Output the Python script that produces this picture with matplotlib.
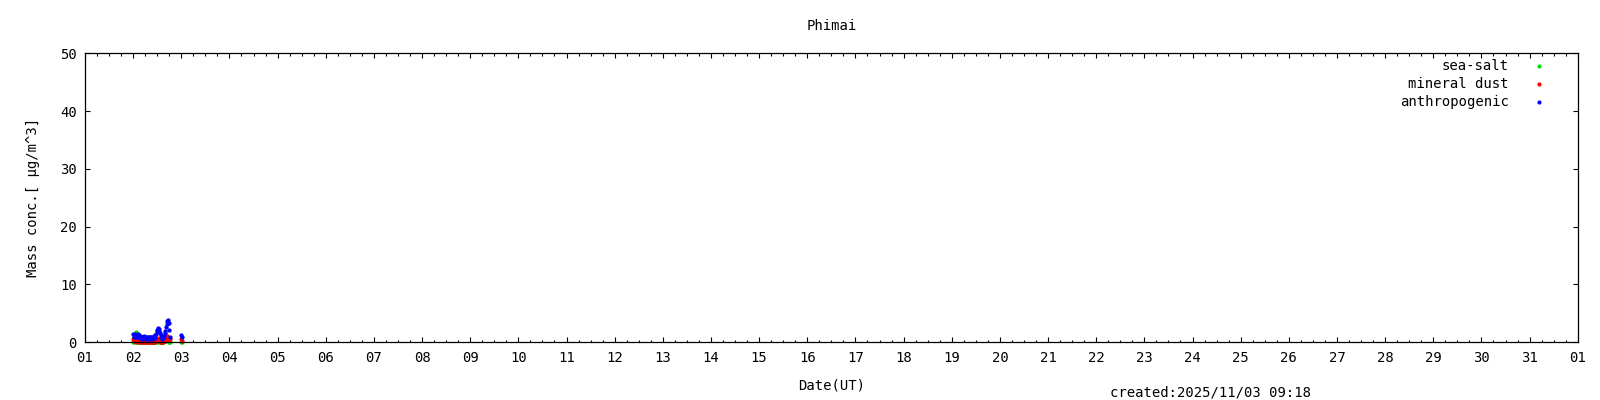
import matplotlib.pyplot as plt
import numpy as np
from matplotlib.ticker import MultipleLocator, FixedLocator

plt.rcParams["font.family"] = ["DejaVu Sans Mono"]

# Samples every 20 min, hours counted from 02 00:00 UT
hours = [0, 0.33, 0.67, 1, 1.33, 1.67, 2, 2.33, 2.67, 3, 3.33, 3.67,
         4, 4.33, 4.67, 5, 5.33, 5.67, 6, 6.33, 6.67, 7, 7.33, 7.67,
         8, 8.33, 8.67, 9, 9.33, 9.67, 10, 10.33, 10.67, 11, 11.33, 11.67,
         12, 12.33, 12.67, 13, 13.33, 13.67, 14, 14.33, 14.67, 15, 15.33, 15.67,
         16, 16.33, 16.67, 17, 17.33, 17.67, 18, 18.33, 24, 24.33]
sea_salt = [0.1, 0.2, 0.1, 0.3, 1.7, 0.2, 0.1, 0.0, 0.1, 0.1, 0.0, 0.1,
            0.1, 0.0, 0.1, 0.0, 0.1, 0.0, 0.1, 0.0, 0.1, 0.0, 0.1, 0.0,
            0.1, 0.0, 0.1, 0.0, 0.1, 0.0, 0.1, 0.0, 0.1, 0.0, 0.1, 0.2,
            0.3, 0.1, 0.2, 0.1, 0.0, 0.1, 0.0, 0.1, 0.0, 0.1, 0.2, 0.3,
            0.5, 1.2, 1.0, 0.4, 0.2, 0.1, 0.1, 0.1, 0.1, 0.1]
mineral_dust = [0.5, 0.2, 0.4, 0.3, 0.6, 0.1, 0.4, 0.2, 0.5, 0.1, 0.3, 0.0,
                0.2, 0.0, 0.3, 0.1, 0.2, 0.0, 0.2, 0.0, 0.1, 0.0, 0.2, 0.1,
                0.1, 0.3, 0.0, 0.2, 0.0, 0.1, 0.1, 0.3, 0.0, 0.2, 0.4, 0.6,
                0.8, 0.5, 0.3, 0.4, 0.2, 0.0, 0.1, 0.0, 0.2, 0.1, 0.3, 0.2,
                0.4, 0.6, 0.9, 1.1, 0.8, 0.5, 0.4, 0.6, 0.6, 0.3]
anthropogenic = [1.5, 1.0, 1.3, 1.4, 0.9, 1.2, 1.3, 1.5, 0.9, 1.2, 0.8, 1.1,
                 1.0, 0.6, 0.9, 1.0, 0.7, 1.1, 0.9, 0.6, 1.0, 1.0, 0.6, 0.9,
                 0.9, 0.5, 1.0, 1.0, 0.6, 0.9, 0.8, 1.1, 0.7, 1.2, 1.5, 1.9,
                 2.1, 2.4, 1.9, 2.3, 1.6, 1.2, 0.9, 0.6, 1.0, 0.8, 1.1, 1.6,
                 2.0, 2.6, 3.1, 3.6, 3.9, 3.3, 2.2, 1.0, 1.3, 0.9]

day_ticks = list(range(1, 33))
day_labels = ["%02d" % d for d in range(1, 32)] + ["01"]

series = [
    ("sea-salt", sea_salt, "#00e000"),
    ("mineral dust", mineral_dust, "#ff0000"),
    ("anthropogenic", anthropogenic, "#0000ff"),
]

days = 2 + np.array(hours) / 24.0

fig = plt.figure(figsize=(16, 4), dpi=100)
ax = fig.add_axes([0.0531, 0.1443, 0.9330, 0.7225])

for name, vals, col in series:
    ax.plot(days, vals, "o", color=col, ms=3.1, mew=0, clip_on=False)

ax.set_xlim(1, 32)
ax.set_ylim(0, 50)
ax.xaxis.set_major_locator(FixedLocator(day_ticks))
ax.xaxis.set_minor_locator(MultipleLocator(0.25))
ax.set_xticklabels(day_labels)
ax.yaxis.set_major_locator(MultipleLocator(10))
ax.tick_params(which="both", direction="in", top=True, right=True, labelsize=10)
ax.tick_params(which="major", length=3.6, width=0.8, pad=6)
ax.tick_params(which="minor", length=1.8, width=0.8)
for s in ax.spines.values():
    s.set_linewidth(0.9)

ax.set_title("Phimai", fontsize=10, pad=17)
ax.set_xlabel("Date(UT)", fontsize=10, labelpad=10)
ax.set_ylabel("Mass conc.[ μg/m^3]", fontsize=10, labelpad=14)

# key in the upper right
for i, (name, vals, col) in enumerate(series):
    y = 0.955 - i * 0.062
    ax.text(0.9537, y, name, transform=ax.transAxes, ha="right", va="center", fontsize=10)
    ax.plot([0.9738], [y], "o", color=col, ms=3, mew=0, transform=ax.transAxes)

fig.text(0.8194, 0.02, "created:2025/11/03 09:18", ha="right", va="center", fontsize=10)

fig.savefig("out.png", dpi=100)
